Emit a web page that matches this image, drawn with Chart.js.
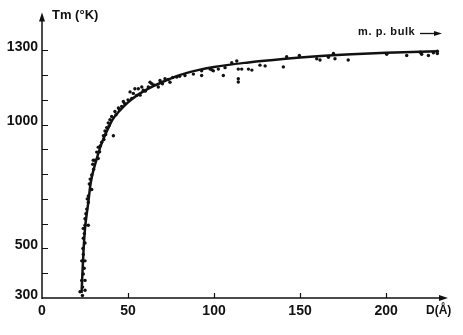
<html>
<head>
<script src="https://cdn.jsdelivr.net/npm/chart.js@4/dist/chart.umd.min.js"></script>
<style>
  body { margin: 0; background: #fff; }
  #wrap { width: 463px; height: 335px; }
</style>
</head>
<body>
<div id="wrap"><canvas id="myChart" width="463" height="335"></canvas></div>
<script>
// fitted curve (D in angstrom, Tm in K)
const curveD = [23, 23.5, 24.2, 25, 26, 27, 28, 29, 31.8, 34.7, 38, 41, 45, 50, 55, 60, 65, 70, 80, 90, 100, 120, 140, 160, 180, 200, 230];
const curveT = [320, 400, 500, 580, 640, 690, 750, 790, 862, 925, 978, 1020, 1055, 1090, 1117, 1138, 1156, 1172, 1200, 1219, 1233, 1251, 1265, 1276, 1284, 1290, 1296];

// measured points
const dotsD = [22.1, 25, 23.6, 23.1, 25, 24, 23.1, 25, 24, 25, 24, 24, 25, 26.9, 25, 26, 26.9, 26.9, 28.9, 28.9,
  29.8, 30.8, 32.7, 31.8, 32.7, 34.7, 35.7, 41.5, 36.6, 37.6, 38.5, 39.5, 40.5, 42.4, 44.4, 46.3, 47.3, 52.2, 57, 53.1,
  51.2, 58.9, 54, 56, 61.8, 58, 67.6, 63.8, 62.8, 74.4, 68.6, 73.4, 71.5, 78.3, 83.1, 88,
  23.5, 24.5, 23.8, 24.6, 25.5, 26.3, 27.5, 28, 30, 29.5, 33.5, 34, 36, 37, 39, 43, 45, 48, 50, 55, 60, 65, 70, 76, 80,
  92.8, 92.8, 97.7, 99.6, 102.5, 105.4, 106.4, 110.3, 113.2, 114.1, 114.1, 114.1, 116.1, 120, 122, 126.7, 129.7, 140.3,
  142.2, 149.6, 159.7, 161.6, 166.5, 169.4, 170.3, 178, 200.4, 212, 219.8, 220.7, 224.6, 227.5, 229.8, 229.8, 98.7];
const dotsT = [325, 331, 344, 371, 371, 397, 450, 450, 476, 522, 541, 581, 594, 594, 620, 659, 686, 712, 738, 797,
  856, 856, 863, 889, 909, 929, 955, 955, 974, 988, 1007, 1020, 1033, 1053, 1067, 1073, 1093, 1106, 1119, 1126,
  1132, 1139, 1145, 1145, 1152, 1152, 1152, 1165, 1171, 1171, 1178, 1182, 1185, 1192, 1198, 1204,
  310, 420, 500, 560, 640, 700, 760, 780, 820, 840, 890, 915, 940, 960, 995, 1040, 1060, 1085, 1100, 1118, 1135, 1160, 1165, 1190, 1195,
  1217, 1198, 1224, 1217, 1224, 1198, 1230, 1250, 1257, 1224, 1185, 1172, 1224, 1224, 1220, 1240, 1237, 1233,
  1274, 1279, 1266, 1261, 1272, 1287, 1266, 1261, 1284, 1279, 1292, 1284, 1279, 1290, 1296, 1287, 1221];

const xTicks = [0, 50, 100, 150, 200];
const yTicks = [300, 400, 500, 600, 700, 800, 900, 1000, 1100, 1200, 1300];
const yLabelled = [300, 500, 1000, 1300];

const ink = '#111';
const font = 'Liberation Sans, Arial, sans-serif';

const axisArrows = {
  id: 'axisArrows',
  afterDraw(chart) {
    const c = chart.ctx, a = chart.chartArea;
    const xs = chart.scales.x, ys = chart.scales.y;
    c.save();
    c.strokeStyle = ink; c.fillStyle = ink; c.lineWidth = 1.5;
    // axes
    c.beginPath();
    c.moveTo(a.left, a.bottom + 1); c.lineTo(a.left, a.top + 6);
    c.moveTo(a.left, a.bottom); c.lineTo(a.right - 6, a.bottom);
    c.stroke();
    c.beginPath();
    c.moveTo(a.left, a.top); c.lineTo(a.left - 3, a.top + 9); c.lineTo(a.left + 3, a.top + 9); c.closePath();
    c.moveTo(a.right, a.bottom); c.lineTo(a.right - 9, a.bottom - 3); c.lineTo(a.right - 9, a.bottom + 3); c.closePath();
    c.fill();
    // tick marks inside the frame
    c.lineWidth = 1.2;
    c.beginPath();
    yTicks.forEach(v => { const y = Math.round(ys.getPixelForValue(v)) + 0.5; if (v > 300) { c.moveTo(a.left, y); c.lineTo(a.left + 6, y); } });
    xTicks.forEach(v => { if (v > 0) { const x = Math.round(xs.getPixelForValue(v)) + 0.5; c.moveTo(x, a.bottom); c.lineTo(x, a.bottom - 5); } });
    c.stroke();
    // texts
    c.font = 'bold 13px ' + font;
    c.textBaseline = 'middle';
    c.textAlign = 'left';
    c.fillText('Tm (°K)', a.left + 10, 15);
    c.font = 'bold 11px ' + font;
    c.letterSpacing = '0.6px';
    c.fillText('m. p. bulk', 358, 32);
    c.letterSpacing = '0px';
    c.beginPath(); c.lineWidth = 1.3;
    c.moveTo(420, 33.5); c.lineTo(436, 33.5); c.stroke();
    c.beginPath(); c.moveTo(442, 33.5); c.lineTo(434, 31); c.lineTo(434, 36); c.closePath(); c.fill();
    c.font = 'bold 12px ' + font;
    c.fillText('D(Å)', 426, 311);
    c.restore();
  }
};

new Chart(document.getElementById('myChart'), {
  type: 'scatter',
  data: {
    datasets: [{
      label: 'fit',
      data: curveD.map((d, i) => ({ x: d, y: curveT[i] })),
      showLine: true,
      borderColor: ink,
      borderWidth: 2.5,
      pointRadius: 0,
      cubicInterpolationMode: 'monotone',
      fill: false
    }, {
      label: 'points',
      data: dotsD.map((d, i) => ({ x: d, y: dotsT[i] })),
      backgroundColor: ink,
      borderColor: ink,
      borderWidth: 0,
      pointRadius: 1.7
    }]
  },
  options: {
    responsive: false,
    animation: false,
    layout: { padding: { left: 0, top: 5, right: 15, bottom: 0 } },
    plugins: { legend: { display: false }, tooltip: { enabled: false } },
    scales: {
      x: {
        type: 'linear', min: 0, max: 236,
        grid: { display: false, drawTicks: false }, border: { display: false },
        afterBuildTicks: s => { s.ticks = xTicks.map(v => ({ value: v })); },
        afterFit: s => { s.height = 37; },
        ticks: { color: ink, font: { family: font, size: 14, weight: 'bold' }, padding: 5, maxRotation: 0, autoSkip: false }
      },
      y: {
        type: 'linear', min: 300, max: 1453,
        grid: { display: false, drawTicks: false }, border: { display: false },
        afterBuildTicks: s => { s.ticks = yTicks.map(v => ({ value: v })); },
        afterFit: s => { s.width = 42; },
        ticks: {
          color: ink, font: { family: font, size: 14, weight: 'bold' }, padding: 4, autoSkip: false, labelOffset: -3,
          callback: v => yLabelled.includes(v) ? String(v) : ''
        }
      }
    }
  },
  plugins: [axisArrows]
});
</script>
</body>
</html>
